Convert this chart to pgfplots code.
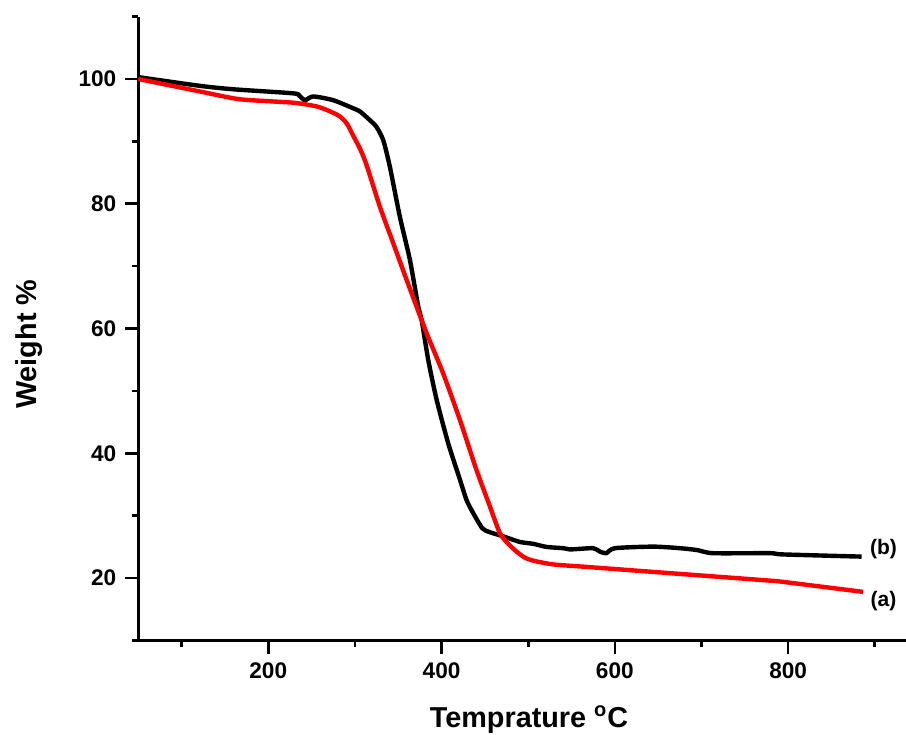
\documentclass[border=0pt]{standalone}
\usepackage{fontspec}
\setmainfont{Liberation Sans}
\usepackage{pgfplots}
\pgfplotsset{compat=1.18}

% TGA curves
\pgfplotstableread{
x y
50 100.3
121.2 98.9
159.6 98.35
228.8 97.7
236 97.3
242.3 96.6
251.9 97.2
275 96.6
298.1 95.3
305.8 94.8
317.3 93.4
325 92.3
332.7 90.2
340.4 85.9
351.9 77.9
363.5 71.0
373.1 63.5
377.0 61.4
384.6 55.0
394.3 48.6
407.7 41.6
421.2 35.8
428.9 32.5
436.6 30.4
447.0 28.0
455.0 27.4
471.1 26.7
490.4 25.8
505.8 25.5
521.2 25.0
540.4 24.8
548.1 24.6
575.0 24.8
582.7 24.25
590.2 24.0
600.0 24.8
644.2 25.05
675.0 24.8
695 24.5
713.4 24.0
778.9 24.0
794.2 23.8
884.7 23.45
}\curveb

\pgfplotstableread{
x y
50 100
121.2 98.0
167.3 96.75
228.8 96.2
255.8 95.6
270 94.9
282.7 94.0
291 92.8
298.1 90.9
306 88.8
313.5 86.2
328.9 79.5
344.2 73.7
359.7 67.8
371.2 63.5
382.8 59.25
401.9 52.8
421.2 45.35
440.4 37.3
455.8 31.5
467.3 27.2
477 25.5
486.6 24.25
496 23.3
505.8 22.8
528.8 22.2
567.4 21.8
605.8 21.4
682.7 20.6
778.9 19.6
794.2 19.4
886.5 17.8
}\curvea

\begin{document}
\begin{tikzpicture}
\begin{axis}[
    at={(0,0)}, anchor=south west,
    scale only axis,
    width=383.9pt, height=312pt,
    xmin=50, xmax=936, ymin=10, ymax=110,
    axis lines=left,
    axis line style={-, line width=1.3pt},
    xtick={200,400,600,800},
    minor xtick={100,300,500,700,900},
    ytick={20,40,60,80,100},
    minor ytick={10,30,50,70,90,110},
    tick align=outside,
    major tick length=6.5pt,
    minor tick length=3.3pt,
    every tick/.style={black, line width=1.3pt},
    /pgf/number format/assume math mode=true,
    tick label style={font=\bfseries\fontsize{11.3}{13}\selectfont},
    xticklabel style={yshift=-1pt},
    yticklabel style={xshift=-1pt},
    xlabel={Temprature \textsuperscript{o}C},
    ylabel={Weight \%},
    label style={font=\bfseries\fontsize{14.4}{16}\selectfont},
    xlabel style={at={(axis description cs:0.509,-0.127)}, anchor=center},
    ylabel style={at={(axis description cs:-0.142,0.475)}, anchor=center},
    clip=false,
]
\addplot[black, line width=2.2pt, smooth, tension=0.4] table[x=x, y=y] {\curveb};
\addplot[red, line width=2.2pt, smooth, tension=0.4] table[x=x, y=y] {\curvea};
\node[font=\bfseries\fontsize{10.5}{12}\selectfont] at (axis cs:910,24.7) {(b)};
\node[font=\bfseries\fontsize{10.5}{12}\selectfont] at (axis cs:910,16.3) {(a)};
\end{axis}
\pgfresetboundingbox
\path[use as bounding box] (-69.15pt,-47.2pt) rectangle (383.9pt,320.3pt);
\end{tikzpicture}
\end{document}
